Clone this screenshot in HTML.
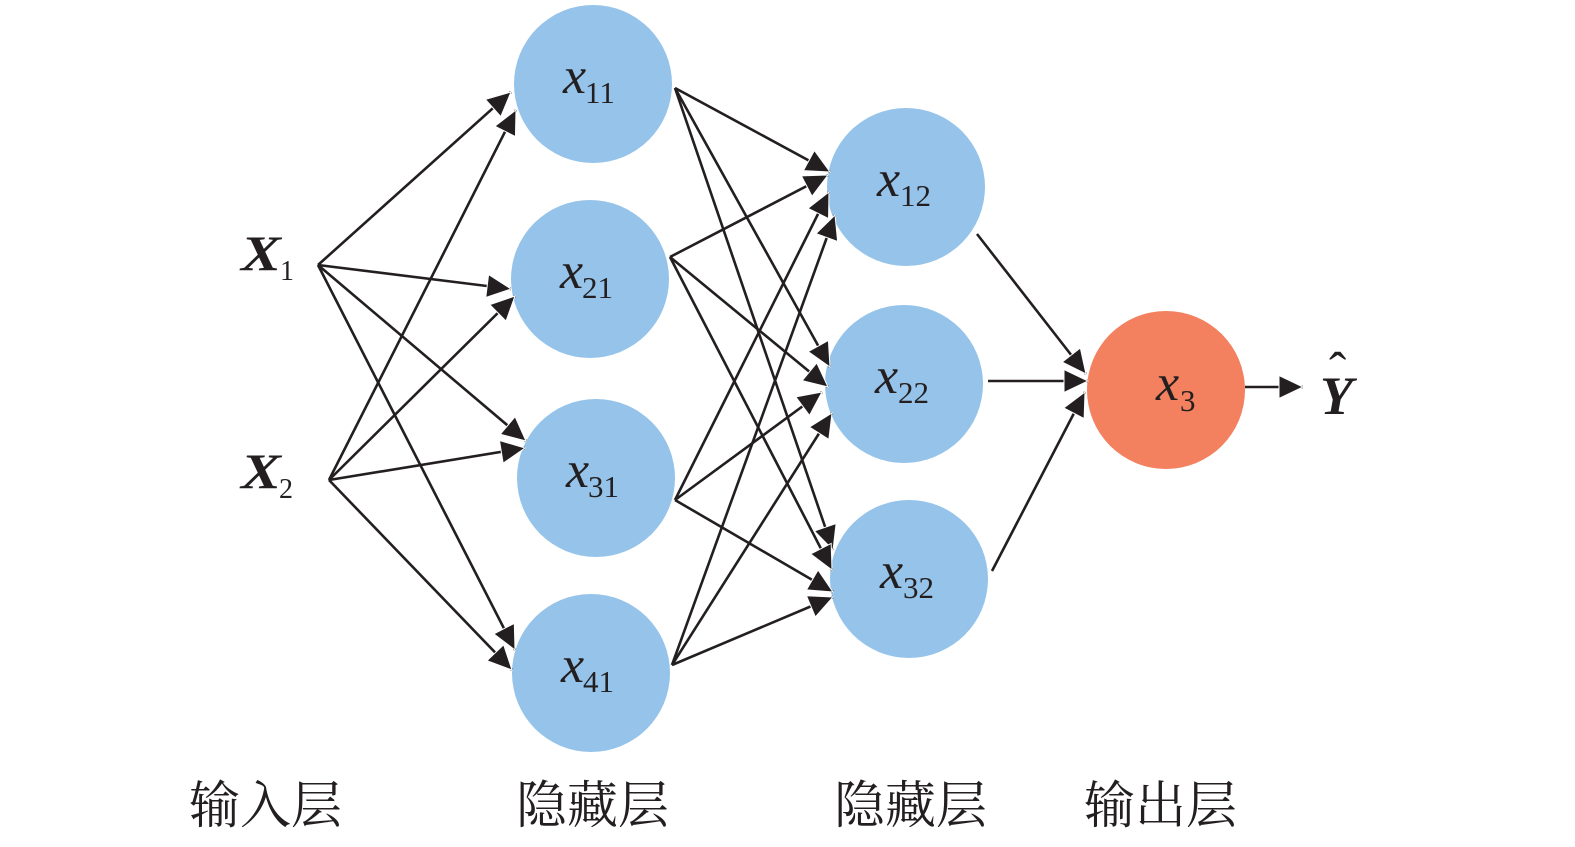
<!DOCTYPE html>
<html>
<head>
<meta charset="utf-8">
<style>
  html, body { margin: 0; padding: 0; background: #ffffff; }
  svg { display: block; }
  .lbl { font-family: "Liberation Serif", serif; fill: #231f20; }
  .cn { font-family: "Liberation Serif", "Noto Serif CJK SC", serif; fill: #231f20; font-size: 51px; }
</style>
</head>
<body>
<svg width="1575" height="847" viewBox="0 0 1575 847" xmlns="http://www.w3.org/2000/svg">
  <defs>
    <marker id="a" markerUnits="userSpaceOnUse" markerWidth="32" markerHeight="32" viewBox="-4 -16 32 32" refX="24" refY="0" orient="auto">
      <path d="M0,-11.5 L24,0 L0,11.5 z" fill="#231f20" stroke="#ffffff" stroke-width="1"/>
    </marker>
  </defs>
  <rect width="1575" height="847" fill="#ffffff"/>

  <!-- nodes -->
  <g fill="#95c3ea">
    <circle cx="593" cy="84" r="79"/>
    <circle cx="590" cy="279" r="79"/>
    <circle cx="596" cy="478" r="79"/>
    <circle cx="591" cy="673" r="79"/>
    <circle cx="906" cy="187" r="79"/>
    <circle cx="904" cy="384" r="79"/>
    <circle cx="909" cy="579" r="79"/>
  </g>
  <circle cx="1166" cy="390" r="79" fill="#f3805e"/>

  <!-- edges -->
  <g stroke="#231f20" stroke-width="2.6" fill="none" marker-end="url(#a)">
    <!-- input -> hidden1 -->
    <line x1="318" y1="265" x2="511" y2="92"/>
    <line x1="329" y1="480" x2="516" y2="110"/>
    <line x1="318" y1="265" x2="511" y2="289"/>
    <line x1="329" y1="480" x2="515" y2="296"/>
    <line x1="318" y1="265" x2="526" y2="441"/>
    <line x1="329" y1="480" x2="525" y2="448"/>
    <line x1="318" y1="265" x2="515" y2="650"/>
    <line x1="329" y1="480" x2="512" y2="670"/>
    <!-- hidden1 -> hidden2 -->
    <line x1="675" y1="88" x2="830" y2="172"/>
    <line x1="670" y1="257" x2="828" y2="175"/>
    <line x1="675" y1="500" x2="829" y2="192"/>
    <line x1="672" y1="665" x2="835" y2="215"/>
    <line x1="675" y1="88" x2="830" y2="367"/>
    <line x1="670" y1="257" x2="828" y2="387"/>
    <line x1="675" y1="500" x2="822" y2="392"/>
    <line x1="672" y1="665" x2="832" y2="413"/>
    <line x1="675" y1="88" x2="833" y2="550"/>
    <line x1="670" y1="257" x2="832" y2="570"/>
    <line x1="675" y1="500" x2="833" y2="592"/>
    <line x1="672" y1="665" x2="833" y2="597"/>
    <!-- hidden2 -> output -->
    <line x1="977" y1="234" x2="1086" y2="374"/>
    <line x1="988" y1="381" x2="1088" y2="381"/>
    <line x1="992" y1="571" x2="1085" y2="392"/>
    <!-- output -> Y -->
    <line x1="1245" y1="387" x2="1303" y2="387"/>
  </g>

  <!-- input labels -->
  <text class="lbl" x="241" y="270" font-size="50" font-weight="bold" font-style="italic" textLength="40" lengthAdjust="spacingAndGlyphs">X</text>
  <text class="lbl" x="280" y="280" font-size="28">1</text>
  <text class="lbl" x="241" y="488" font-size="50" font-weight="bold" font-style="italic" textLength="40" lengthAdjust="spacingAndGlyphs">X</text>
  <text class="lbl" x="279" y="498" font-size="28">2</text>

  <!-- node labels -->
  <g class="lbl">
    <text x="563" y="93" font-size="52" font-style="italic">x</text>
    <text x="585" y="103" font-size="31">11</text>

    <text x="560" y="288" font-size="52" font-style="italic">x</text>
    <text x="582" y="298" font-size="31">21</text>

    <text x="566" y="487" font-size="52" font-style="italic">x</text>
    <text x="588" y="497" font-size="31">31</text>

    <text x="561" y="682" font-size="52" font-style="italic">x</text>
    <text x="583" y="692" font-size="31">41</text>

    <text x="877" y="196" font-size="52" font-style="italic">x</text>
    <text x="900" y="206" font-size="31">12</text>

    <text x="875" y="393" font-size="52" font-style="italic">x</text>
    <text x="898" y="403" font-size="31">22</text>

    <text x="880" y="588" font-size="52" font-style="italic">x</text>
    <text x="903" y="598" font-size="31">32</text>

    <text x="1156" y="400" font-size="52" font-style="italic">x</text>
    <text x="1180" y="411" font-size="31">3</text>
  </g>

  <!-- Y hat -->
  <text class="lbl" x="1320" y="414" font-size="54" font-weight="bold" font-style="italic">Y</text>
  <text class="lbl" x="1329" y="388" font-size="52">ˆ</text>

  <!-- layer captions -->
  <text class="cn" x="189" y="823">输入层</text>
  <text class="cn" x="516" y="823">隐藏层</text>
  <text class="cn" x="834" y="823">隐藏层</text>
  <text class="cn" x="1084" y="823">输出层</text>
</svg>
</body>
</html>
